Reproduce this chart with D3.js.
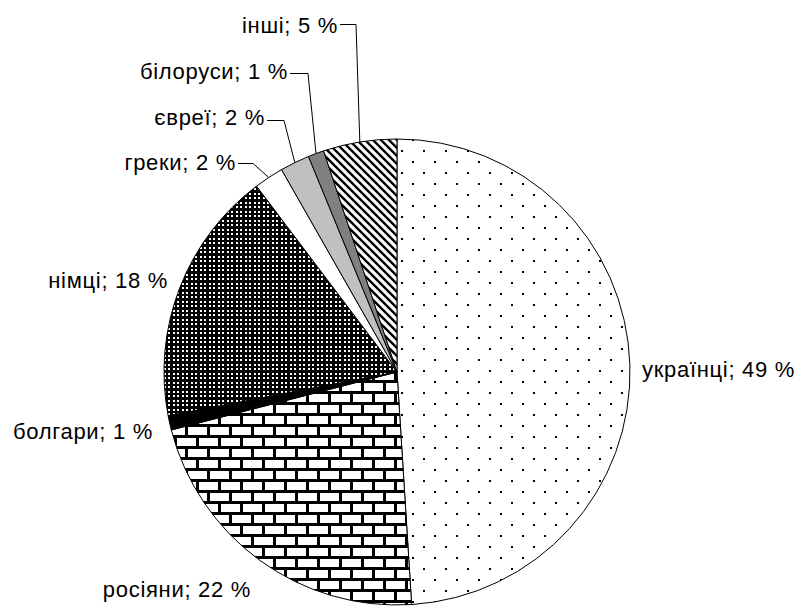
<!DOCTYPE html>
<html>
<head>
<meta charset="utf-8">
<script src="https://cdn.jsdelivr.net/npm/d3@7/dist/d3.min.js"></script>
<style>
  body { margin: 0; background: #fff; }
  text { font-family: "Liberation Sans", Arial, sans-serif; font-size: 22px; letter-spacing: 0.7px; fill: #000; }
</style>
</head>
<body>
<div id="chart"></div>
<script>

var svgWidth = 800;
var svgHeight = 607;

// data (slice sizes estimated from the arcs, labels as printed)
var categories = ['українці', 'росіяни', 'болгари', 'німці', 'греки', 'євреї', 'білоруси', 'інші'];
var shares = [49, 22, 1, 17.7, 2.05, 2.05, 1.1, 5.1];
var labelPercents = [49, 22, 1, 18, 2, 2, 1, 5];

// fill for each slice
var fills = ['url(#dots)', 'url(#bricks)', '#000', 'url(#grid)', '#fff', '#c0c0c0', '#808080', 'url(#diag)'];

// label placement: anchor, x, baseline, elbow of leader line
var labelPos = [
  { anchor: 'start', x: 642, y: 377, leader: null },
  { anchor: 'end', x: 251, y: 597, leader: null },
  { anchor: 'end', x: 153, y: 439, leader: null },
  { anchor: 'end', x: 168, y: 288, leader: null },
  { anchor: 'end', x: 236, y: 170, leader: { x0: 238, x1: 253, y: 163.5 } },
  { anchor: 'end', x: 265, y: 125, leader: { x0: 267, x1: 284, y: 120.5 } },
  { anchor: 'end', x: 288, y: 79, leader: { x0: 290, x1: 308, y: 73.5 } },
  { anchor: 'end', x: 338, y: 33, leader: { x0: 340, x1: 356, y: 24.5 } }
];

var cx = 397;
var cy = 372;
var radius = 233;

var pieData = categories.map(function(c, i) {
  return { name: c, value: shares[i], label: labelPercents[i], fill: fills[i], pos: labelPos[i] };
});

var svg = d3.select('#chart')
  .append('svg')
  .attr('width', svgWidth)
  .attr('height', svgHeight);

// fill patterns
var defs = svg.append('defs');

var dots = defs.append('pattern')
  .attr('id', 'dots')
  .attr('patternUnits', 'userSpaceOnUse')
  .attr('x', 15).attr('y', 9)
  .attr('width', 22).attr('height', 22);
dots.append('rect').attr('width', 22).attr('height', 22).attr('fill', '#fff');
dots.append('rect').attr('x', 0).attr('y', 0).attr('width', 2).attr('height', 2).attr('fill', '#000');
dots.append('rect').attr('x', 11).attr('y', 11).attr('width', 2).attr('height', 2).attr('fill', '#000');

var bricks = defs.append('pattern')
  .attr('id', 'bricks')
  .attr('patternUnits', 'userSpaceOnUse')
  .attr('x', 0).attr('y', 0)
  .attr('width', 22).attr('height', 22);
bricks.append('rect').attr('width', 22).attr('height', 22).attr('fill', '#000');
bricks.append('rect').attr('x', 0).attr('y', 0).attr('width', 19).attr('height', 8).attr('fill', '#fff');
bricks.append('rect').attr('x', 11).attr('y', 11).attr('width', 11).attr('height', 8).attr('fill', '#fff');
bricks.append('rect').attr('x', 0).attr('y', 11).attr('width', 8).attr('height', 8).attr('fill', '#fff');

var grid = defs.append('pattern')
  .attr('id', 'grid')
  .attr('patternUnits', 'userSpaceOnUse')
  .attr('width', 9).attr('height', 9)
  .attr('shape-rendering', 'crispEdges');
grid.append('rect').attr('width', 9).attr('height', 9).attr('fill', '#000');
[[1, 1], [5, 1], [1, 5], [5, 5]].forEach(function(p) {
  grid.append('rect').attr('x', p[0]).attr('y', p[1]).attr('width', 2).attr('height', 2).attr('fill', '#fff');
});

var diag = defs.append('pattern')
  .attr('id', 'diag')
  .attr('patternUnits', 'userSpaceOnUse')
  .attr('width', 8).attr('height', 8);
diag.append('rect').attr('width', 8).attr('height', 8).attr('fill', '#fff');
diag.append('path')
  .attr('d', 'M-2,-2L10,10M-2,6L2,10M6,-2L10,2')
  .attr('stroke', '#000')
  .attr('stroke-width', 2.4);

var pie = d3.pie()
  .sort(null)
  .value(function(d) { return d.value; });

var arc = d3.arc()
  .innerRadius(0)
  .outerRadius(radius);

var chartGroup = svg.append('g')
  .attr('transform', `translate(${cx}, ${cy})`);

var arcs = pie(pieData);

chartGroup.selectAll('path.slice')
  .data(arcs)
  .enter()
  .append('path')
  .classed('slice', true)
  .attr('d', arc)
  .attr('fill', function(d) { return d.data.fill; })
  .attr('stroke', '#000')
  .attr('stroke-width', 1)
  .attr('stroke-linejoin', 'round');

// point on the rim at the middle of a slice
function rimPoint(d) {
  var a = (d.startAngle + d.endAngle) / 2;
  return [cx + radius * Math.sin(a), cy - radius * Math.cos(a)];
}

// leader lines
svg.selectAll('path.leader')
  .data(arcs.filter(function(d) { return d.data.pos.leader; }))
  .enter()
  .append('path')
  .classed('leader', true)
  .attr('d', function(d) {
    var l = d.data.pos.leader;
    var p = rimPoint(d);
    return `M${l.x0},${l.y}L${l.x1},${l.y}L${p[0]},${p[1]}`;
  })
  .attr('fill', 'none')
  .attr('stroke', '#000')
  .attr('stroke-width', 1);

// labels
svg.selectAll('text.label')
  .data(arcs)
  .enter()
  .append('text')
  .classed('label', true)
  .attr('x', function(d) { return d.data.pos.x; })
  .attr('y', function(d) { return d.data.pos.y; })
  .attr('text-anchor', function(d) { return d.data.pos.anchor; })
  .text(function(d) { return `${d.data.name}; ${d.data.label} %`; });

</script>
</body>
</html>
